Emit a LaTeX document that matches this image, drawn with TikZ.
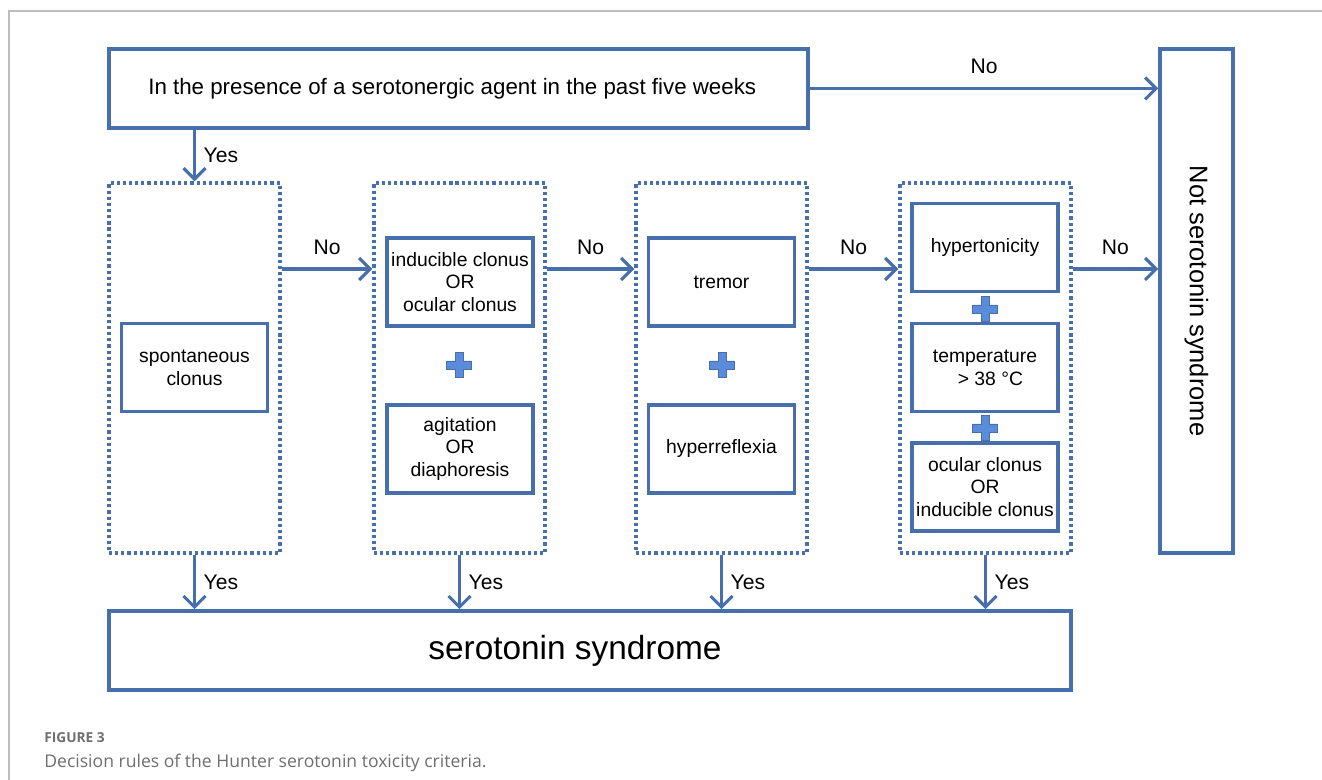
\documentclass[tikz,border=0pt]{standalone}
\usepackage{fontspec}
\setmainfont{Liberation Sans}
\newfontfamily\capfont{Open Sans}
\usetikzlibrary{arrows.meta}
\definecolor{boxblue}{HTML}{476FAB}
\definecolor{plusblue}{HTML}{5B8CDB}
\definecolor{framegray}{HTML}{BDBDBD}
\definecolor{capgray}{HTML}{6E6E6E}

\begin{document}
\begin{tikzpicture}[
	solidbox/.style = {draw=boxblue, line width=2pt, minimum width=2.92cm, minimum height=1.76cm, inner sep=0pt, align=center, font=\fontsize{11}{13}\selectfont},
	groupbox/.style = {draw=boxblue, line width=1.8pt, dash pattern=on 1.8pt off 1.7pt, minimum width=3.42cm, minimum height=7.4cm},
	plusmark/.style = {minimum size=0.56cm, inner sep=0pt, path picture={
		\filldraw[fill=plusblue, draw=boxblue, line width=0.5pt, shift={(path picture bounding box.center)}]
			(-0.25,-0.08) -- (-0.08,-0.08) -- (-0.08,-0.25) -- (0.08,-0.25) -- (0.08,-0.08) -- (0.25,-0.08)
			-- (0.25,0.08) -- (0.08,0.08) -- (0.08,0.25) -- (-0.08,0.25) -- (-0.08,0.08) -- (-0.25,0.08) -- cycle;}},
	flow/.style = {draw=boxblue, line width=1.8pt, -{Straight Barb[length=2.2mm, width=4.4mm]}},
	lbl/.style = {font=\fontsize{12}{14}\selectfont}]
	\useasboundingbox (0,0) rectangle (26.44,15.6);
	\draw[framegray, line width=0.6pt] (0.18,0) -- (0.18,15.38) -- (26.44,15.38);

	\node (agent)	at ( 9.17, 13.83)	[solidbox, minimum width=13.98cm, minimum height=1.58cm, font=\fontsize{12.7}{15}\selectfont]	{In the presence of a serotonergic agent in the past five weeks\hspace*{0.25cm}};
	\node (notss)	at (23.93,  9.58)	[solidbox, minimum width=1.46cm, minimum height=10.08cm, font=\fontsize{14.5}{17}\selectfont]	{\rotatebox{-90}{Not serotonin syndrome}};
	\node (ss)	at (11.80,  2.59)	[solidbox, minimum width=19.24cm, minimum height=1.58cm, font=\fontsize{19}{22}\selectfont]	{serotonin syndrome\hspace*{0.6cm}};

	\node (d1)	at ( 3.89,  8.24)	[groupbox]	{};
	\node (d2)	at ( 9.19,  8.24)	[groupbox]	{};
	\node (d3)	at (14.43,  8.24)	[groupbox]	{};
	\node (d4)	at (19.71,  8.24)	[groupbox]	{};

	\node (spont)	at ( 3.89,  8.25)	[solidbox]	{spontaneous\\clonus};
	\node (induc)	at ( 9.20,  9.96)	[solidbox]	{inducible clonus\\OR\\ocular clonus};
	\node (plusA)	at ( 9.18,  8.30)	[plusmark]	{};
	\node (agit)	at ( 9.20,  6.62)	[solidbox]	{agitation\\OR\\diaphoresis};
	\node (tremor)	at (14.43,  9.96)	[solidbox]	{tremor};
	\node (plusB)	at (14.44,  8.30)	[plusmark]	{};
	\node (hyref)	at (14.43,  6.62)	[solidbox]	{hyperreflexia};
	\node (hyton)	at (19.70, 10.65)	[solidbox]	{hypertonicity};
	\node (plusC)	at (19.70,  9.42)	[plusmark]	{};
	\node (temp)	at (19.70,  8.25)	[solidbox]	{temperature\\\ \ > 38 °C};
	\node (plusD)	at (19.70,  7.04)	[plusmark]	{};
	\node (ocul)	at (19.70,  5.86)	[solidbox]	{ocular clonus\\OR\\inducible clonus};

	\coordinate (nolevel) at (0, 10.22);
	\draw[flow] (agent.east) -- (agent.east -| notss.west) node[lbl, midway, above=4pt] {No};
	\draw[flow] (d1.north |- agent.south) -- (d1.north) node[lbl, midway, right=1pt] {Yes};
	\draw[flow] (d1.east |- nolevel) -- (d2.west |- nolevel) node[lbl, midway, above=4pt] {No};
	\draw[flow] (d2.east |- nolevel) -- (d3.west |- nolevel) node[lbl, midway, above=4pt] {No};
	\draw[flow] (d3.east |- nolevel) -- (d4.west |- nolevel) node[lbl, midway, above=4pt] {No};
	\draw[flow] (d4.east |- nolevel) -- (notss.west |- nolevel) node[lbl, midway, above=4pt] {No};
	\draw[flow] (d1.south) -- (d1.south |- ss.north) node[lbl, midway, right=1pt] {Yes};
	\draw[flow] (d2.south) -- (d2.south |- ss.north) node[lbl, midway, right=1pt] {Yes};
	\draw[flow] (d3.south) -- (d3.south |- ss.north) node[lbl, midway, right=1pt] {Yes};
	\draw[flow] (d4.south) -- (d4.south |- ss.north) node[lbl, midway, right=1pt] {Yes};

	\node (figno)	at (0.88, 0.74)	[anchor=base west, inner sep=0pt, text=capgray, font=\capfont\bfseries\fontsize{7.8}{9}\selectfont]	{FIGURE 3};
	\node (figcap)	at (0.88, 0.24)	[anchor=base west, inner sep=0pt, text=capgray, font=\capfont\fontsize{10}{12}\selectfont]	{Decision rules of the Hunter serotonin toxicity criteria.};
\end{tikzpicture}
\end{document}
